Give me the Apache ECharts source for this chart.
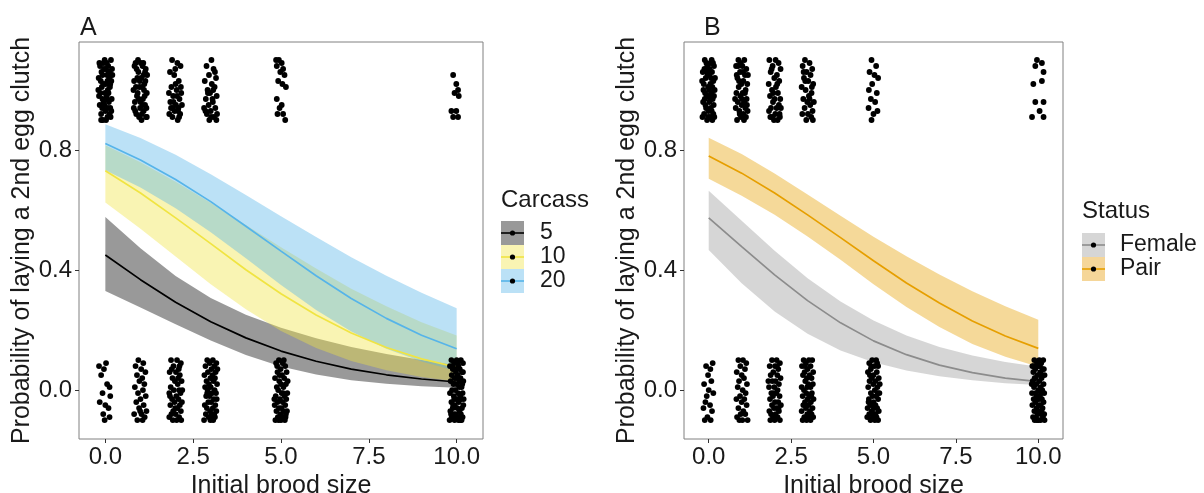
<!DOCTYPE html>
<html><head><meta charset="utf-8">
<script src="https://cdn.jsdelivr.net/npm/echarts@6/dist/echarts.min.js"></script>
<style>html,body{margin:0;padding:0;background:#fff}#c{width:1204px;height:493px}</style>
</head><body><div id="c"></div><script>
// ---- data ----
const brood = [0,1,2,3,4,5,6,7,8,9,10];
// Panel A: Carcass 5 / 10 / 20  (fit, lower, upper)
const c5Fit  = [0.450,0.368,0.293,0.228,0.174,0.130,0.096,0.070,0.051,0.037,0.027];
const c5Lo   = [0.330,0.275,0.219,0.165,0.117,0.079,0.052,0.033,0.021,0.013,0.008];
const c5Hi   = [0.577,0.473,0.380,0.307,0.251,0.208,0.173,0.144,0.120,0.100,0.083];
const c10Fit = [0.731,0.657,0.574,0.488,0.401,0.321,0.250,0.190,0.142,0.104,0.076];
const c10Lo  = [0.625,0.538,0.445,0.353,0.269,0.197,0.140,0.097,0.066,0.044,0.029];
const c10Hi  = [0.816,0.759,0.694,0.624,0.550,0.476,0.405,0.338,0.279,0.226,0.182];
const c20Fit = [0.822,0.767,0.702,0.628,0.546,0.463,0.381,0.305,0.239,0.183,0.138];
const c20Lo  = [0.733,0.675,0.606,0.526,0.439,0.350,0.267,0.195,0.138,0.095,0.064];
const c20Hi  = [0.886,0.840,0.784,0.719,0.650,0.579,0.510,0.443,0.381,0.324,0.273];
// Panel B: Status Female / Pair
const femFit  = [0.574,0.478,0.384,0.298,0.224,0.164,0.118,0.083,0.058,0.040,0.028];
const femLo   = [0.467,0.356,0.262,0.188,0.132,0.093,0.065,0.046,0.033,0.023,0.017];
const femHi   = [0.664,0.564,0.464,0.373,0.295,0.232,0.182,0.144,0.115,0.094,0.078];
const pairFit = [0.780,0.723,0.657,0.584,0.508,0.431,0.357,0.290,0.230,0.180,0.139];
const pairLo  = [0.704,0.648,0.584,0.512,0.434,0.353,0.277,0.210,0.154,0.111,0.078];
const pairHi  = [0.841,0.787,0.722,0.652,0.581,0.511,0.446,0.385,0.329,0.279,0.234];

// jittered raw observations: brood-size groups, offsets in hundredths [dx, dy]
const clusterX = [0,1,2,3,5,10];
const aTop = [
 [[-15,8],[4,9],[12,6],[-8,5],[17,3],[-18,-2],[1,2],[9,-1],[-5,-4],[14,-6],[-12,-8],[6,-9],[-2,10],[19,7],[-10,1],[3,-3],[11,4],[-16,-5],[7,0],[-4,7],[15,-9],[-19,4],[0,-7],[8,8],[-7,-10],[13,1],[-13,3],[5,5],[-1,-1],[18,-3],[-9,-6],[10,-4],[-17,9],[2,-10],[16,10],[-6,2],[12,-8],[-14,-1],[6,3],[-3,-5],[9,6],[-11,6],[4,-2],[17,-7],[-20,0],[1,7],[-8,-3],[14,2],[-5,9],[7,-6],[-12,-10],[20,5]],
 [[-14,9],[6,8],[15,7],[-6,6],[2,4],[-18,3],[11,2],[-3,1],[18,-1],[-10,-2],[7,-3],[-16,-4],[13,-5],[-1,-6],[9,-7],[-12,-8],[16,-9],[3,-10],[-7,10],[19,5],[-20,0],[5,1],[-9,4],[12,-2],[-4,-9],[8,9],[-15,-7],[14,3],[0,-4],[-11,7],[17,-6],[-2,3],[10,0],[-17,8],[4,-8],[-8,-1],[13,6],[-5,-3],[1,9],[-13,1],[18,-9],[6,-5],[-19,-6],[9,5]],
 [[-10,10],[5,9],[14,8],[-16,6],[-4,5],[9,3],[-12,1],[3,0],[16,-1],[-7,-2],[11,-3],[-15,-4],[1,-5],[8,-6],[-3,-7],[13,-8],[-9,-9],[6,-10],[-18,-8],[18,-5],[-6,-4],[4,-2],[-13,-6],[10,-9],[0,2],[15,1],[-1,7],[-19,-1],[7,-7],[-8,-6]],
 [[2,10],[-12,8],[8,7],[-5,5],[15,4],[-17,3],[3,2],[11,1],[-9,0],[-2,-1],[17,-2],[-14,-3],[6,-4],[-6,-5],[13,-6],[0,-7],[-11,-8],[9,-9],[-4,-10],[18,-8],[-19,-6],[5,-3],[12,6],[-8,-1],[1,-9],[16,-10],[-15,-7],[7,0]],
 [[-14,10],[-6,10],[2,9],[-12,8],[6,7],[-2,6],[10,5],[-8,3],[14,1],[4,2],[-12,-3],[-4,-6],[2,-5],[-10,-8],[6,-8],[12,-10]],
 [[-10,5],[-1,2],[4,0],[-6,-1],[6,-2],[-15,-7],[-1,-7],[-10,-9],[4,-9]]
];
const aBot = [
 [[-18,8],[-4,7],[2,9],[-12,5],[12,1],[5,2],[-8,-1],[14,-2],[-16,-4],[0,-5],[9,-6],[-6,-8],[12,-9],[-2,-10]],
 [[-6,10],[8,9],[-14,8],[2,7],[14,6],[-10,5],[5,4],[-3,3],[11,2],[-16,1],[7,0],[-7,-1],[15,-2],[0,-3],[-12,-4],[9,-5],[-4,-6],[17,-7],[-18,-8],[3,-8],[12,-9],[-9,-10],[6,-10],[-1,-7]],
 [[-13,10],[4,10],[15,9],[-6,8],[9,7],[-17,6],[1,6],[12,5],[-9,4],[-2,3],[17,3],[6,2],[-14,1],[10,0],[-5,0],[14,-1],[-18,-1],[2,-2],[-10,-3],[8,-3],[18,-4],[-3,-4],[12,-5],[-15,-5],[5,-6],[-7,-7],[15,-7],[0,-8],[-12,-8],[10,-9],[-18,-9],[3,-10],[16,-10],[-8,-10],[7,4],[-11,7],[19,0],[-1,-6],[11,8],[-16,-2]],
 [[-10,10],[6,10],[16,9],[-3,9],[-15,8],[10,8],[2,7],[-8,6],[14,6],[-18,5],[5,5],[-1,4],[12,4],[-12,3],[8,3],[18,2],[-5,2],[0,1],[-16,1],[11,0],[-9,0],[15,-1],[4,-1],[-3,-2],[-13,-2],[9,-3],[17,-3],[-7,-4],[1,-4],[13,-5],[-17,-5],[6,-6],[-11,-6],[-2,-7],[16,-7],[10,-8],[-14,-8],[3,-8],[-6,-9],[12,-9],[-19,-10],[7,-10],[-1,-10],[19,7],[-10,-1],[5,-9]],
 [[-6,10],[5,9],[-14,9],[12,8],[-1,7],[16,6],[-10,6],[3,5],[-17,4],[9,4],[-5,3],[14,2],[0,2],[-12,1],[7,1],[-8,0],[18,-1],[2,-1],[-15,-2],[10,-2],[-3,-3],[15,-3],[-10,-4],[5,-4],[-18,-5],[12,-5],[-6,-6],[1,-6],[17,-7],[-13,-7],[8,-7],[-2,-8],[14,-8],[-9,-9],[4,-9],[-16,-10],[11,-10],[0,-10],[-11,8],[8,10],[19,3],[-19,-3],[-4,5],[6,-1],[13,-9],[-7,-10]],
 [[-15,10],[0,10],[12,10],[-7,9],[18,9],[5,8],[-19,8],[-11,7],[9,7],[-2,6],[15,6],[-14,5],[3,5],[-6,4],[11,4],[19,3],[-17,3],[1,2],[-9,2],[14,1],[7,1],[-4,0],[-13,0],[17,-1],[4,-1],[-19,-1],[10,-2],[-8,-2],[-1,-3],[13,-3],[-15,-4],[6,-4],[19,-5],[-5,-5],[2,-6],[-11,-6],[15,-6],[8,-7],[-18,-7],[-3,-8],[12,-8],[-9,-8],[0,-9],[17,-9],[-14,-9],[5,-10],[-6,-10],[11,-10],[-20,-10],[16,2],[-12,8],[7,-9],[-1,4],[20,-3],[-16,-8],[9,3],[-7,-3],[3,9],[14,-10],[-10,-5],[18,6],[-4,7]]
];
const bTop = [
 [[-12,10],[6,9],[16,8],[-4,8],[-18,6],[10,6],[1,5],[-9,4],[14,3],[-15,2],[5,2],[-2,1],[18,0],[-11,-1],[8,-1],[-6,-2],[12,-3],[-17,-4],[2,-4],[15,-5],[-8,-6],[-1,-7],[9,-7],[-14,-8],[17,-9],[4,-9],[-5,-10],[11,-10],[-19,-9],[7,4],[-13,7],[13,9],[0,-2],[-3,5],[19,4],[-10,-5],[3,7],[-16,0],[11,1],[-7,9],[6,-6],[16,-2],[-20,3],[-2,-9],[9,10],[-12,-3],[14,-8],[1,0],[-6,6],[4,-3]],
 [[-10,10],[8,10],[-17,8],[2,8],[14,7],[-5,6],[10,5],[-13,4],[5,3],[17,2],[-1,2],[-9,1],[12,0],[-16,-1],[3,-1],[-4,-2],[15,-3],[8,-4],[-12,-4],[0,-5],[-18,-6],[11,-6],[-7,-7],[18,-7],[5,-8],[-2,-9],[13,-9],[-14,-10],[7,-10],[-8,3],[19,5],[-20,-3],[4,6],[-11,8],[10,-1],[-3,9],[16,-5],[-6,-8],[1,-3],[-15,5]],
 [[-16,10],[3,10],[12,9],[-6,8],[18,7],[-12,6],[7,5],[-1,4],[14,3],[-18,2],[4,1],[-8,0],[10,-1],[-14,-2],[17,-3],[0,-3],[-5,-4],[13,-5],[-11,-6],[6,-6],[-17,-7],[2,-8],[15,-8],[-7,-9],[9,-10],[-2,-10],[-13,-9],[19,-6],[-9,7],[8,2],[-4,-1],[16,-9]],
 [[-8,10],[6,9],[-15,8],[14,7],[-3,6],[9,5],[-11,4],[2,3],[17,2],[-18,1],[-6,0],[12,-1],[4,-2],[-13,-3],[19,-4],[-1,-4],[8,-5],[-9,-6],[15,-7],[-16,-8],[1,-8],[11,-9],[-4,-10],[16,-10],[-12,6],[6,-3],[-7,3],[13,1]],
 [[-6,10],[8,8],[-12,6],[3,5],[14,4],[-4,2],[-14,0],[10,-1],[-8,-3],[5,-4],[-15,-6],[12,-7],[0,-8],[-6,-10]],
 [[-4,10],[11,9],[-9,8],[16,6],[-15,2],[11,3],[-9,-4],[16,-4],[-19,-9],[16,-9],[4,-7]]
];
const bBot = [
 [[-8,8],[5,7],[12,9],[-2,5],[8,3],[-14,2],[0,0],[-6,-2],[14,-1],[-10,-4],[4,-5],[-16,-6],[10,-7],[-4,-9],[6,-10],[-12,-10]],
 [[-10,10],[4,10],[14,9],[-4,8],[10,7],[-15,6],[0,5],[7,4],[-8,3],[16,2],[-12,1],[3,0],[12,-1],[-5,-2],[-16,-3],[8,-3],[0,-4],[15,-5],[-10,-6],[5,-7],[-3,-8],[11,-8],[-14,-9],[2,-10],[18,-10],[-7,-10]],
 [[-8,10],[6,10],[16,9],[-15,8],[1,8],[11,7],[-4,6],[-12,5],[8,5],[18,4],[3,3],[-7,3],[13,2],[-17,1],[-1,1],[9,0],[-10,-1],[5,-1],[15,-2],[-5,-2],[-14,-3],[1,-4],[11,-4],[-8,-5],[19,-5],[6,-6],[-2,-6],[-16,-7],[13,-7],[-11,-8],[3,-8],[9,-9],[-5,-9],[16,-10],[-13,-10],[0,-10],[-19,3],[7,8],[-3,-1],[12,-6]],
 [[-12,10],[4,10],[14,10],[-5,9],[9,8],[-17,8],[0,7],[17,6],[-9,6],[6,5],[-14,5],[12,4],[-2,4],[-7,3],[2,2],[16,2],[-18,1],[9,1],[-11,0],[-4,-1],[13,-1],[5,-2],[-15,-2],[0,-3],[18,-3],[-8,-4],[10,-4],[-13,-5],[3,-5],[15,-6],[-5,-6],[-18,-7],[7,-7],[-1,-8],[12,-8],[-10,-9],[4,-9],[17,-9],[-15,-10],[-3,-10],[9,-10],[-8,8],[11,-2],[-1,1]],
 [[-4,10],[8,10],[-13,9],[3,8],[14,8],[-8,7],[-17,6],[10,6],[0,5],[-5,4],[16,4],[6,3],[-12,3],[-1,2],[12,1],[-16,1],[4,0],[-8,-1],[18,-1],[8,-2],[-3,-2],[-14,-3],[14,-3],[0,-4],[-10,-5],[6,-5],[-18,-6],[11,-6],[-5,-7],[16,-7],[2,-8],[-13,-8],[9,-9],[-2,-9],[14,-10],[-9,-10],[4,-10],[-15,-4],[19,2],[-7,8],[11,9],[-19,-9],[6,-8],[-11,5],[1,-6],[13,-1]],
 [[-12,10],[3,10],[15,10],[-4,9],[9,9],[-18,8],[0,8],[13,7],[-9,7],[6,6],[-15,6],[19,5],[-2,5],[-11,4],[10,4],[3,3],[-17,3],[16,2],[-6,2],[7,1],[-13,1],[0,0],[12,0],[-19,-1],[-8,-1],[18,-1],[5,-2],[-3,-3],[-14,-3],[11,-3],[-9,-4],[16,-4],[1,-5],[-18,-5],[7,-5],[-5,-6],[13,-6],[-12,-7],[3,-7],[18,-8],[-2,-8],[9,-8],[-16,-9],[-7,-9],[14,-9],[0,-10],[-11,-10],[7,-10],[19,-10],[-20,2],[5,8],[-6,-2],[10,-7],[-14,8],[2,-3],[17,7],[-9,4],[12,5],[-4,-10],[8,-1]]
];
const xTicks = [0, 2.5, 5, 7.5, 10];
const yTicks = [0, 0.4, 0.8];
const carcassLabels = ['5','10','20'];
const statusLabels = ['Female','Pair'];

// ---- build ----
const FONT = '"Liberation Sans", Arial, Helvetica, sans-serif';
const TXT = '#1a1a1a';
function pts(groups, base){
  const out=[];
  groups.forEach((g,i)=>g.forEach(p=>out.push([clusterX[i]+p[0]/100, base+p[1]/100])));
  return out;
}
function band(idx, lo, hi, color){
  return {type:'custom', xAxisIndex:idx, yAxisIndex:idx, silent:true, z:1,
    data: brood.map((x,i)=>[x, lo[i], hi[i]]),
    encode:{x:0, y:[1,2]},
    renderItem:function(params, api){
      if (params.dataIndex !== 0) return null;
      const up = brood.map((x,i)=>api.coord([x, hi[i]]));
      const dn = brood.map((x,i)=>api.coord([x, lo[i]])).reverse();
      return {type:'polygon', shape:{points: up.concat(dn)}, style:{fill:color}};
    }};
}
function fit(idx, vals, color){
  return {type:'line', xAxisIndex:idx, yAxisIndex:idx, data:brood.map((x,i)=>[x,vals[i]]), symbol:'none',
    smooth:false, lineStyle:{color:color, width:1.7}, silent:true, z:3};
}
function scat(idx, data){
  return {type:'scatter', xAxisIndex:idx, yAxisIndex:idx, data:data, symbolSize:5.8,
    itemStyle:{color:'#000', opacity:1}, silent:true, z:4};
}
function xAx(idx){
  return {type:'value', gridIndex:idx, min:-0.75, max:10.75, name:'Initial brood size', nameLocation:'middle', nameGap:25,
    nameTextStyle:{fontSize:25, color:TXT, fontFamily:FONT},
    axisLine:{show:false, onZero:false}, splitLine:{show:false},
    axisTick:{show:true, length:4, lineStyle:{color:'#333'}, customValues:xTicks},
    axisLabel:{customValues:xTicks, formatter:v=>v.toFixed(1), fontSize:24, color:TXT, fontFamily:FONT, margin:6}};
}
function yAx(idx){
  return {type:'value', gridIndex:idx, min:-0.163, max:1.16, name:'Probability of laying a 2nd egg clutch', nameLocation:'middle', nameGap:42,
    nameTextStyle:{fontSize:25, color:TXT, fontFamily:FONT},
    axisLine:{show:false, onZero:false}, splitLine:{show:false},
    axisTick:{show:true, length:4, lineStyle:{color:'#333'}, customValues:yTicks},
    axisLabel:{customValues:yTicks, formatter:v=>v.toFixed(1), fontSize:24, color:TXT, fontFamily:FONT, margin:7}};
}
function key(x, y, fill, line, label, lx){
  return [
    {type:'rect', shape:{x:x, y:y, width:23, height:24}, style:{fill:fill}},
    {type:'line', shape:{x1:x, y1:y+12, x2:x+23, y2:y+12}, style:{stroke:line, lineWidth:1.6}},
    {type:'circle', shape:{cx:x+11.5, cy:y+12, r:2.6}, style:{fill:'#000'}},
    {type:'text', x:lx, y:y+12, style:{text:label, fontSize:23, fontFamily:FONT, fill:TXT, verticalAlign:'middle', align:'left'}}
  ];
}
const greyBand='rgba(0,0,0,0.4)', yelBand='rgba(240,228,66,0.4)', bluBand='rgba(86,180,233,0.4)';
const femBand='rgba(153,153,153,0.4)', pairBand='rgba(230,159,0,0.4)';
const graphics = [
  {type:'text', x:80, y:28, style:{text:'A', fontSize:25, fontFamily:FONT, fill:TXT, verticalAlign:'middle'}},
  {type:'text', x:704, y:28, style:{text:'B', fontSize:25, fontFamily:FONT, fill:TXT, verticalAlign:'middle'}},
  {type:'text', x:501, y:200, style:{text:'Carcass', fontSize:24, fontFamily:FONT, fill:TXT, verticalAlign:'middle'}},
  ...key(501,221,'rgb(153,153,153)','#000',carcassLabels[0],540),
  ...key(501,245,'rgb(249,244,179)','#F0E442',carcassLabels[1],540),
  ...key(501,269,'rgb(187,225,246)','#56B4E9',carcassLabels[2],540),
  {type:'text', x:1082, y:211, style:{text:'Status', fontSize:24, fontFamily:FONT, fill:TXT, verticalAlign:'middle'}},
  ...key(1082,233,'rgb(214,214,214)','#8c8c8c',statusLabels[0],1120),
  ...key(1082,257,'rgb(245,214,153)','#E69F00',statusLabels[1],1120)
];
const gridBase = {show:true, borderColor:'#808080', borderWidth:1, backgroundColor:'#fff', containLabel:false, outerBoundsMode:'none'};
const option = {
  animation:false,
  grid:[
    Object.assign({left:79, top:42, width:404, height:397}, gridBase),
    Object.assign({left:684, top:42, width:379, height:397}, gridBase)
  ],
  xAxis:[xAx(0), xAx(1)],
  yAxis:[yAx(0), yAx(1)],
  series:[
    band(0,c5Lo,c5Hi,greyBand),
    band(0,c10Lo,c10Hi,yelBand),
    band(0,c20Lo,c20Hi,bluBand),
    fit(0,c5Fit,'#000'), fit(0,c10Fit,'#F0E442'), fit(0,c20Fit,'#56B4E9'),
    scat(0, pts(aTop,1).concat(pts(aBot,0))),
    band(1,femLo,femHi,femBand),
    band(1,pairLo,pairHi,pairBand),
    fit(1,femFit,'#8c8c8c'), fit(1,pairFit,'#E69F00'),
    scat(1, pts(bTop,1).concat(pts(bBot,0)))
  ],
  graphic:graphics
};
const chart = echarts.init(document.getElementById('c'), null, {renderer:'canvas'});
chart.setOption(option);
</script></body></html>
